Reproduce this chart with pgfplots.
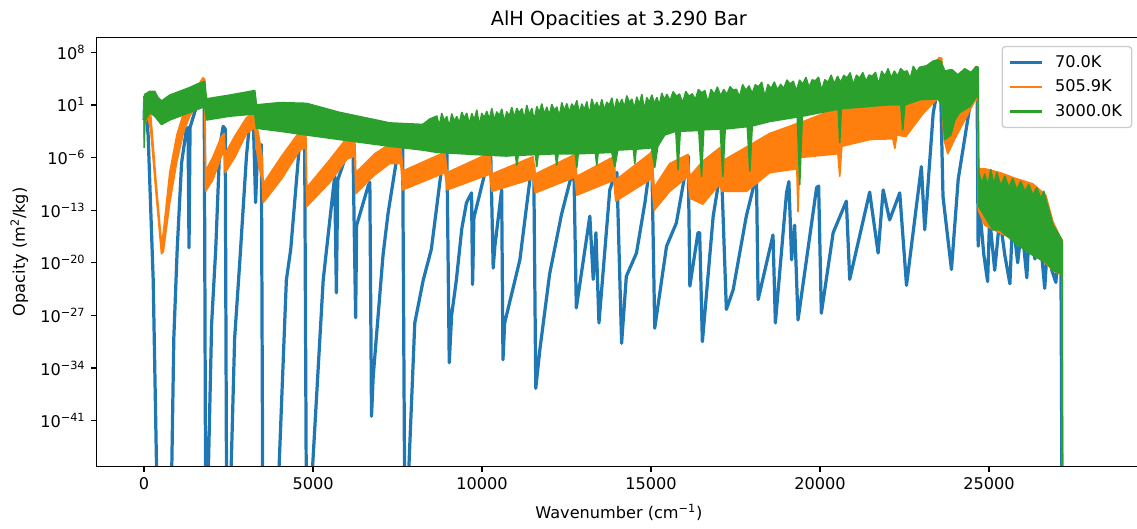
\documentclass[border=0pt]{standalone}
\usepackage{fontspec}
\setmainfont{DejaVu Sans}
\usepackage{pgfplots}
\pgfplotsset{compat=1.18}
\definecolor{c0}{HTML}{1F77B4}
\definecolor{c1}{HTML}{FF7F0E}
\definecolor{c2}{HTML}{2CA02C}
\begin{document}
\begin{tikzpicture}
\path[use as bounding box] (-60.0pt,-38.6pt) rectangle (645.0pt,289.3pt);
\begin{axis}[
  at={(0pt,0pt)}, anchor=south west,
  scale only axis, width=647.5pt, height=266.2pt,
  xmin=-1400, xmax=29500,
  ymode=log, ymin=7.9e-48, ymax=1e10,
  axis on top,
  scaled x ticks=false,
  xtick={0,5000,10000,15000,20000,25000},
  xticklabels={0,5000,10000,15000,20000,25000},
  ytick={1e8,1e1,1e-6,1e-13,1e-20,1e-27,1e-34,1e-41},
  yticklabels={10\textsuperscript{8},10\textsuperscript{1},10\textsuperscript{−6},10\textsuperscript{−13},10\textsuperscript{−20},10\textsuperscript{−27},10\textsuperscript{−34},10\textsuperscript{−41}},
  yminorticks=false, xminorticks=false,
  tick align=outside, tick pos=left,
  major tick length=3.5pt,
  every tick/.style={black, line width=0.8pt},
  axis line style={line width=0.8pt},
  tick label style={font=\fontsize{10}{12}\selectfont},
  title={AlH Opacities at 3.290 Bar},
  every axis title shift=0pt,
  title style={font=\fontsize{12}{14}\selectfont, at={(axis description cs:0.5,1.0285)}, anchor=base, yshift=0pt},
  xlabel={Wavenumber (cm\textsuperscript{−1})},
  xlabel style={font=\fontsize{10}{12}\selectfont, at={(axis description cs:0.5,-0.1215)}, anchor=base},
  ylabel={Opacity (m\textsuperscript{2}/kg)},
  ylabel style={font=\fontsize{10}{12}\selectfont, at={(axis description cs:-0.0689,0.5)}, anchor=base},
  legend style={at={(axis description cs:0.9917,0.9797)}, anchor=north east, draw=black!20, line width=0.8pt, rounded corners=2pt, fill=white, font=\fontsize{10}{12}\selectfont, inner xsep=4pt, inner ysep=3.5pt, row sep=2.2pt},
  legend cell align=left,
  legend image code/.code={\draw[#1, fill=none, line width=1.5pt] (0pt,0pt) -- (20pt,0pt); \path (25pt,0pt);},
]
% 70.0K
\addplot[c0, line width=2pt, line join=round] coordinates {
(0,1e-1) (20,1.3e2) (70,3.2e-1) (120,1e-3) (270,5e-23) (380,1e-50) (810,1e-50) (880,1e-30) (980,6.3e-19)
(1110,2e-7) (1250,5e-3) (1300,1e-2) (1330,1e-18) (1360,1e-2) (1550,6.3) (1700,10) (1780,20) (1820,1e-50)
(1890,1e-50) (2000,1e-28) (2120,6.3e-19) (2240,3.2e-5) (2340,1.4e-2) (2400,6.3e-3) (2440,1e-50) (2560,1e-50)
(2680,1e-30) (2830,1e-20) (3030,1.6e-6) (3130,1e-1) (3230,2e-1) (3300,1e-12) (3360,1e-5) (3470,5e-5)
(3510,1e-50) (3970,1e-50) (4210,5e-23) (4340,6.3e-19) (4610,2.5e-4) (4750,3.2e-3) (4800,1e-50) (4950,1e-50)
(5300,5e-23) (5400,6.3e-19) (5640,3.2e-9) (5690,1e-24) (5730,1e-9) (6040,1.3e-5) (6180,3.2e-5) (6260,5e-28)
(6290,1e-15) (6630,1.6e-10) (6680,5e-10) (6730,4e-41) (6780,8e-36) (7070,1e-19) (7220,4e-14) (7520,1.3e-5)
(7650,1e-4) (7710,1e-50) (7810,1e-50) (8010,1e-28) (8260,5e-23) (8500,6.3e-19) (8850,1.6e-6) (8960,1e-5)
(9030,5e-34) (9100,1e-27) (9240,5e-23) (9400,3.2e-16) (9540,1e-12) (9690,2e-11) (9720,1.3e-23) (9760,1e-14)
(10180,5e-7) (10260,1e-6) (10330,2e-21) (10380,1.6e-18) (10580,5e-11) (10620,1.3e-33) (10670,1e-28)
(11120,2.5e-20) (11460,4e-8) (11530,1e-7) (11590,2e-37) (11710,2.5e-32) (12000,3.2e-22) (12350,2.5e-14)
(12650,5e-9) (12720,1e-8) (12790,1e-26) (13190,1.6e-14) (13290,6.3e-23) (13370,1e-16) (13460,1e-28)
(13780,5e-11) (13930,5e-9) (13990,1e-8) (14130,2e-31) (14270,1.6e-22) (14570,2e-19) (14820,1e-12)
(15020,5e-6) (15110,2e-29) (15460,1.6e-18) (15750,2e-15) (16100,1.6e-6) (16150,8e-24) (16390,1e-16)
(16440,1e-16) (16520,3.2e-31) (16840,1.6e-14) (17030,3.2e-9) (17090,5e-9) (17230,6.3e-27) (17430,2.5e-24)
(17820,1.6e-14) (18120,5e-9) (18170,1.3e-25) (18610,5e-17) (18680,1e-28) (19010,2e-11) (19080,6.3e-10)
(19160,2.5e-20) (19250,1e-15) (19350,2.5e-28) (19900,1e-10) (19960,1.6e-10) (20040,2e-27) (20390,1e-16)
(20780,1.6e-12) (20880,6.3e-23) (21470,2.5e-11) (21720,2e-19) (21870,5e-11) (22060,5e-15) (22360,2e-11)
(22560,1e-23) (23000,6.3e-8) (23100,2.5e-16) (23350,0.8) (23490,2e3) (23570,1e3) (23640,6.3e-12)
(23890,1.3e-21) (24090,1.3e-9) (24480,1.3e2) (24650,2.5e2) (24680,1.6e-18)
(24730,1e-13) (24850,1e-19) (24960,3.2e-23) (25020,1e-14) (25170,1e-21) (25320,1e-14) (25470,1e-19)
(25620,1.6e-23) (25700,1e-14) (25850,1e-20) (25970,1e-15) (26120,1e-22) (26210,1e-14) (26360,3.2e-20)
(26500,1e-16) (26650,4e-24) (26740,1e-17) (26860,1e-21) (26980,2.5e-23) (27060,1e-18) (27130,1e-20)
(27160,1e-50)
};
\addlegendentry{70.0K}
% 505.9K
\addplot[draw=c1, fill=c1, line width=1pt, line join=round] coordinates {
(0,3.2e1) (20,2e2) (110,2e2) (200,3.2e-1) (350,1e-9) (515,3.2e-18) (570,1e-16) (760,1e-8) (970,1e-3)
(1175,1) (1350,16) (1560,2e3) (1740,4e4) (1795,2.5e4) (1820,1.6e-8) (2030,1e-6) (2290,6.3e-4) (2370,1.6e-3)
(2400,3.2e-6) (2680,6.3e-4) (3030,0.2) (3275,1) (3320,3.2e-2) (3390,1e-3) (3495,1e-6) (3525,3.2e-10)
(4075,1.6e-6) (4610,3.2e-3) (4785,6.3e-3) (4815,1e-10) (5495,5e-7) (6000,4e-4) (6235,3.2e-4) (6265,1e-8)
(6825,3.2e-6) (7270,6.3e-5) (7595,5e-5) (7655,1.6e-8) (8900,5e-6) (8970,1e-8) (10230,4e-6) (10290,6.3e-9)
(11510,1.3e-6) (11575,6.3e-9) (12745,2.5e-6) (12805,3.2e-9) (13900,1.3e-6) (13955,1e-9) (15020,5e-6)
(15095,1e-10) (15555,1.6e-7) (16090,2.5e-6) (16150,3.2e-9) (16530,3.2e-7) (17035,2e-5) (17095,3.2e-7)
(17825,2.5e-5) (18515,1.6e-3) (19315,3.2e-2) (19400,4e-2) (20530,4) (21475,20) (22155,63) (22540,80)
(23040,4e2) (23395,3.2e5) (23515,2e7) (23605,1.6e7) (23665,10) (23780,1) (23990,10) (24285,1e3)
(24610,1.3e6) (24665,1e6) (24685,3.2e-8) (24875,3.2e-8) (25320,1e-8) (25795,1.6e-9) (26295,3.2e-10)
(26680,1e-11) (26890,3.2e-15) (27095,3.2e-17) (27170,1e-17) (27172,1e-50)
(27170,3.2e-22) (27095,3.2e-22) (26890,1e-21) (26680,1e-20) (26295,3.2e-19) (25795,1e-17) (25320,1e-16)
(24875,1e-15) (24685,1e-13) (24665,32) (24610,63) (24285,0.1) (23990,3.2e-4) (23780,3.2e-6) (23665,3.2e-4)
(23605,32) (23515,100) (23395,32) (23040,0.63) (22540,6.3e-4) (22275,1e-3) (22215,1.6e-5) (22155,3.2e-4)
(21475,2.5e-4) (20645,3.2e-5) (20585,3.2e-9) (20530,3.2e-6) (19400,1e-6) (19350,6.3e-14) (19315,3.2e-8)
(18515,1e-8) (17825,3.2e-11) (17095,3.2e-11) (17035,3.2e-10) (16530,6.3e-13) (16150,4e-12) (16090,3.2e-9)
(15555,3.2e-11) (15095,1e-13) (15020,1.6e-9) (13955,1.6e-12) (13900,1e-9) (12805,1e-11) (12745,2.5e-9)
(11575,2e-11) (11510,1.6e-9) (10290,3.2e-11) (10230,6.3e-9) (8970,5e-11) (8900,1e-8) (7655,5e-11)
(7595,1.6e-7) (7270,1.6e-7) (6825,5e-9) (6265,1.6e-11) (6235,1.6e-6) (6000,6.3e-7) (5495,5e-10)
(4815,3.2e-13) (4785,2e-5) (4610,1e-5) (4075,1.6e-9) (3525,1e-12) (3495,1e-9) (3390,1e-7) (3320,3.2e-5)
(3275,1e-2) (3030,1.6e-3) (2680,1e-6) (2400,1e-8) (2370,5e-6) (2290,1.6e-6) (2030,1e-9) (1820,3.2e-11)
(1795,40) (1740,63) (1560,10) (1350,0.32) (1175,3.2e-3) (970,3.2e-7) (760,1e-12) (570,3.2e-19)
(515,1.6e-19) (350,3.2e-11) (200,3.2e-3) (110,3.2e-1) (20,3.2e-2) (0,3.2e-4) (0,3.2e1)
};
\addlegendentry{505.9K}
% 3000.0K
\addplot[draw=c2, fill=c2, line width=1pt, line join=round] coordinates {
(0,2e-5) (5,10) (20,2.5e2) (170,6.3e2) (315,6.3e2) (405,1e2) (515,32) (760,2e2) (1055,6.3e2) (1350,2e3)
(1590,6.3e3) (1795,1.3e4) (1845,63) (2535,2e2) (3275,8e2) (3325,10) (4015,20) (4805,16) (5790,1)
(7270,4e-2) (8245,2.5e-2) (8454,1.3e-1)
(8661,0.32) (8735,1.6e-2) (8809,0.72) (8883,7.2e-2) (8957,0.27) (9031,1.1e-2) (9105,0.62) (9179,6.2e-2)
(9253,0.28) (9327,3.5e-2) (9401,1.0) (9475,0.16) (9549,0.76) (9623,2.4e-2) (9697,0.69) (9771,8.7e-2)
(9845,2.0) (9919,1.6e-2) (9993,0.74) (10067,0.19) (10141,1.35) (10215,0.11) (10289,3.1) (10363,7.9e-2)
(10437,1.15) (10511,0.36) (10585,2.6) (10659,5.2e-2) (10733,1.2) (10807,0.30) (10881,4.4) (10955,0.18)
(11029,3.2) (11103,0.81) (11177,3.0) (11251,0.12) (11325,8.5) (11399,0.43) (11473,3.2) (11547,7.9e-2)
(11621,5.8) (11695,0.91) (11769,13) (11843,0.52) (11917,4.9) (11991,0.39) (12065,11) (12139,1.8)
(12213,5.1) (12287,0.26) (12361,19) (12435,1.5) (12509,14) (12583,0.87) (12657,13) (12731,4.0)
(12805,36) (12879,0.58) (12953,13) (13027,2.1) (13101,25) (13175,0.39) (13249,56) (13323,4.5)
(13397,21) (13471,2.6) (13545,48) (13619,1.9) (13693,22) (13767,8.7) (13841,80) (13915,1.3)
(13989,59) (14063,7.4) (14137,54) (14211,4.3) (14285,155) (14359,19) (14433,57) (14507,2.9)
(14581,105) (14655,10.5) (14729,240) (14803,1.9) (14877,89) (14951,22) (15025,204) (15099,13)
(15173,93) (15247,9.3) (15321,343) (15395,43) (15469,250)
(15563,35) (15656,550) (15750,136) (15843,270) (15937,17) (16030,590) (16124,130) (16217,290) (16311,51)
(16404,1.1e3) (16498,390) (16591,780) (16685,19) (16778,1.1e3) (16872,240) (16965,2.3e3) (17059,146)
(17152,1.1e3) (17246,226) (17339,2.5e3) (17433,880) (17526,1.2e3) (17620,108) (17713,4.8e3) (17807,840)
(17900,3.3e3) (17994,330) (18087,4.6e3) (18181,2.5e3) (18274,1e4) (18368,124) (18461,4.9e3) (18555,1.5e3)
(18648,1.07e4) (18742,940) (18835,5.2e3) (18929,1.5e3) (19022,2e4) (19116,5.7e3) (19209,1.4e4) (19303,700)
(19396,1.9e4) (19490,5.4e3) (19583,4.3e4) (19677,2.1e3) (19770,2.1e4) (19864,1.6e4) (19957,4.6e4) (20051,800)
(20144,2.2e4) (20238,9.9e3) (20331,8.7e4) (20425,6.1e3) (20518,6e4) (20612,9.4e3) (20705,8.3e4) (20799,3.7e4)
(20892,1.8e5) (20986,4.5e3) (21079,8.9e4) (21173,3.5e4) (21266,1.9e5) (21360,1.4e4) (21453,9.5e4) (21547,6.3e4)
(21640,2.1e5) (21734,5.2e3) (21827,2.9e5) (21921,6.4e4) (22014,6.3e5) (22108,3.9e4) (22201,3.1e5) (22295,6.1e4)
(22388,6.8e5) (22482,2.4e5) (22575,3.3e5) (22669,2.9e4) (22762,1.3e6) (22856,2.3e5) (22949,1e6)
(23160,1.6e6) (23338,6.3e6) (23486,1e7) (23575,6.3e6) (23693,3.2e5) (23900,5e5) (24078,1e5)
(24285,6.3e5) (24463,2e5) (24631,1.3e6) (24678,1e6) (24699,1e-8) (24787,3.2e-10) (24876,6.3e-9)
(24965,1.6e-10) (25054,2.5e-8) (25143,2.5e-10) (25231,1e-8) (25350,1.6e-10) (25468,3.2e-9) (25587,1e-10)
(25705,1.6e-9) (25823,5e-11) (25942,6.3e-10) (26060,3.2e-11) (26178,2.5e-10) (26296,1e-11) (26415,1e-10)
(26533,3.2e-12) (26622,3.2e-11) (26711,1e-12) (26799,4e-14) (26898,1e-15) (27037,1e-16) (27146,1.3e-17)
(27170,4e-18) (27175,1e-50)
(27170,3.2e-22) (27146,3.2e-22) (26898,1e-21) (26702,1e-20) (26296,1e-19) (25814,3.2e-18) (25320,2.5e-16)
(25113,2.5e-16) (24699,3.2e-13) (24678,1e2) (24630,1.3e2) (24435,6.3) (24135,1) (23990,0.1) (23870,1e-3)
(23780,5e-4) (23695,2.5e-4) (23605,10) (23485,63) (22955,50) (22510,10) (22450,5e-3) (22390,10) (21970,10)
(20630,3.2) (20585,1e-4) (20540,2.5) (20490,2.5) (19475,3.2e-1) (19400,2.5e-10) (19330,2.5e-1)
(18515,6.3e-2) (17995,1.6e-2) (17925,1.6e-8) (17850,1.3e-2) (17195,6.3e-3) (17125,3.2e-9) (17050,6.3e-3)
(16560,5e-3) (16495,3.2e-9) (16415,4e-3) (15865,3.2e-3) (15800,2.5e-8) (15735,3.2e-3) (15405,1e-3)
(15200,3.2e-5) (15110,5e-8) (15020,2e-5) (14560,1.3e-5) (14520,1.6e-7) (14480,1.3e-5) (14015,1e-5)
(13930,6.3e-8) (13840,5e-6) (13435,4e-6) (13395,1e-7) (13355,4e-6) (12845,3.2e-6) (12805,5e-8)
(12765,3.2e-6) (12250,3.2e-6) (12210,1e-7) (12170,3.2e-6) (11660,2.5e-6) (11620,6.3e-8) (11580,2.5e-6)
(11070,2e-6) (11030,1e-7) (10990,2e-6) (10725,1.6e-6) (9835,2.5e-6) (8660,5e-6) (8245,1e-5)
(7270,3.2e-5) (5790,2.5e-4) (4805,1e-3) (4015,3.2e-3) (3325,8e-3) (3275,6.3e-1) (2535,3.2e-1)
(1845,1e-1) (1795,6.3) (1350,1) (760,1e-1) (515,2.5e-2) (315,3.2e-1) (170,1) (20,6.3e-2) (0,2e-5)
};
\addlegendentry{3000.0K}
\end{axis}
\end{tikzpicture}
\end{document}
